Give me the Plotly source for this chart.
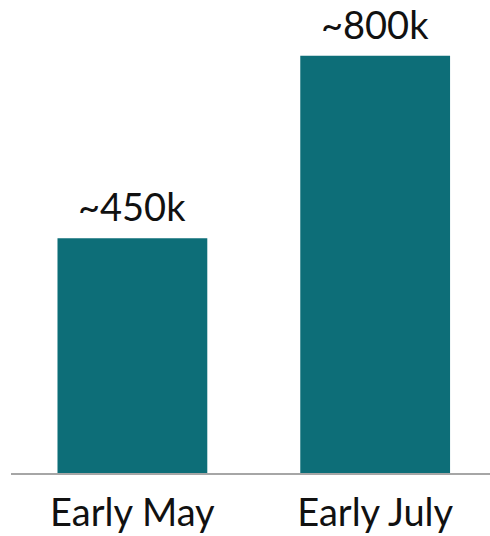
import plotly.graph_objects as go

categories = ["Early May", "Early July"]
values = [450, 800]
labels = ["~450k", "~800k"]

fig = go.Figure(go.Bar(
    x=categories, y=values,
    marker=dict(color="#0D6E78", line=dict(width=0)),
    width=0.617,
    hoverinfo="skip",
))
for c, v, t in zip(categories, values, labels):
    fig.add_annotation(x=c, y=v, text=t, showarrow=False, yanchor="bottom", yshift=7,
                       font=dict(family="Lato", size=38, color="#111111"))
fig.update_layout(
    width=490, height=536,
    margin=dict(l=11, r=0, t=0, b=63),
    paper_bgcolor="white", plot_bgcolor="white",
    showlegend=False,
    font=dict(family="Lato", color="#111111"),
)
fig.update_xaxes(range=[-0.5, 1.473], showline=True, linecolor="#A6A6A6", linewidth=1.5,
                 tickfont=dict(family="Lato", size=38, color="#111111"), ticks="", showgrid=False,
                 ticklabelstandoff=6)
fig.update_yaxes(range=[0, 907], visible=False, showgrid=False)
fig.write_html("out.html", config={"displayModeBar": False},
               post_script="document.body.style.margin='0';")
